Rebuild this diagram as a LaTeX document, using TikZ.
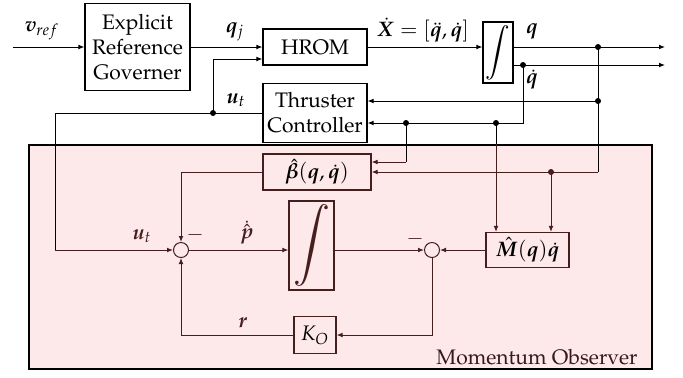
\documentclass[tikz,border=0pt]{standalone}
\usepackage{amsmath}
\usepackage[T1]{fontenc}
\usepackage{mathpazo}
\usepackage{bm}
\usetikzlibrary{arrows.meta}
\definecolor{obsfill}{RGB}{253,233,234}
\definecolor{obsline}{RGB}{70,30,30}
\begin{document}
\begin{tikzpicture}[x=0.5pt,y=-0.5pt,
  every node/.style={font=\fontsize{10.5}{12.5}\selectfont},
  blk/.style={draw,line width=0.6pt,align=center,inner sep=0pt},
  oblk/.style={blk,draw=obsline},
  sumc/.style={draw=obsline,line width=0.5pt,circle,minimum size=7.5pt,inner sep=0pt},
  conn/.style={line width=0.5pt,-{Latex[length=3pt,width=2.4pt]}},
  oconn/.style={conn,draw=obsline},
  seg/.style={line width=0.5pt},
  jdot/.style={circle,fill,inner sep=0pt,minimum size=3pt},
  lbl/.style={inner sep=0pt}]
\useasboundingbox (0,0) rectangle (683,377);
% observer background
\node[draw,line width=0.6pt,fill=obsfill,minimum width=311.5pt,minimum height=112pt,inner sep=0pt] (obs) at (340.5,257) {};
\node[lbl,text=obsline!80!black] (obslbl) at (537,357) {Momentum Observer};
% blocks
\node[blk,minimum width=52.5pt,minimum height=43.5pt] (erg) at (137.5,47) {Explicit\\Reference\\Governer};
\node[blk,minimum width=52pt,minimum height=18pt] (hrom) at (315,47) {HROM};
\node[blk,minimum width=52pt,minimum height=29.5pt] (tc) at (315,113) {Thruster\\Controller};
\node[blk,minimum width=15pt,minimum height=30.5pt] (int1) at (498,52.5) {};
\node[lbl] (int1s) at (int1) {\scalebox{1.3}{$\displaystyle\int$}};
\node[oblk,fill=obsfill,minimum width=54pt,minimum height=18pt] (beta) at (317,172) {$\hat{\bm\beta}(\bm q,\dot{\bm q})$};
\node[sumc] (s1) at (181,250) {};
\node[oblk,minimum width=22.5pt,minimum height=44.5pt] (int2) at (311.5,245.5) {};
\node[lbl,text=obsline] (int2s) at (int2) {\scalebox{1.95}{$\displaystyle\int$}};
\node[sumc] (s2) at (432,250) {};
\node[oblk,minimum width=41.5pt,minimum height=17.5pt] (mm) at (527.5,250) {$\hat{\bm M}(\bm q)\dot{\bm q}$};
\node[oblk,minimum width=21pt,minimum height=18.5pt] (ko) at (315,335) {$K_O$};
% coordinates
\coordinate (vin) at (13,47);
\coordinate (qout) at (665,47);
\coordinate (qdout) at (665,65);
\coordinate (j1) at (598,47);
\coordinate (j2) at (598,101);
\coordinate (c1) at (598,172);
\coordinate (j4) at (551,172);
\coordinate (j5) at (523,65);
\coordinate (c2) at (523,123);
\coordinate (j6) at (406,123);
\coordinate (j7) at (496,123);
\coordinate (c3) at (406,162);
\coordinate (c4) at (55,113);
\coordinate (c5) at (55,250);
\coordinate (j8) at (213,113);
\coordinate (c6) at (213,59);
\coordinate (c7) at (181,172);
\coordinate (c8) at (432,335);
\coordinate (c9) at (181,335);
% top connectors
\draw[conn] (vin) -- (erg);
\draw[conn] (erg) -- (hrom);
\draw[conn] (hrom.east) -- (hrom.east -| int1.west);
\draw[conn] (int1.east |- qout) -- (qout);
\draw[conn] (int1.east |- qdout) -- (qdout);
\draw[conn] (j2) -- (j2 -| tc.east);
\draw[conn] (j5) -- (c2) -- (c2 -| tc.east);
\draw[seg] (tc.west) -- (c4) -- (c5);
\draw[conn] (j8) -- (c6) -- (c6 -| hrom.west);
\draw[seg] (j1) -- (c1);
\draw[seg] (j6) -- (c3);
\draw[seg] (j7) -- (obs.north -| j7);
% observer connectors
\draw[oconn] (c1) -- (c1 -| beta.east);
\draw[oconn] (c3) -- (c3 -| beta.east);
\draw[oconn] (j4) -- (j4 |- mm.north);
\draw[oconn] (obs.north -| j7) -- (j7 |- mm.north);
\draw[oconn] (c5) -- (s1.west);
\draw[oconn] (beta.west |- c7) -- (c7) -- (s1.north);
\draw[oconn] (s1.east) -- (s1.east -| int2.west);
\draw[oconn] (int2.east |- s2) -- (s2.west);
\draw[oconn] (mm.west) -- (s2.east);
\draw[oconn] (s2.south) -- (c8) -- (ko.east);
\draw[oconn] (ko.west) -- (c9) -- (s1.south);
% dots
\node[jdot] (d1) at (j1) {};
\node[jdot] (d2) at (j2) {};
\node[jdot,obsline] (d4) at (j4) {};
\node[jdot] (d5) at (j5) {};
\node[jdot] (d6) at (j6) {};
\node[jdot] (d7) at (j7) {};
\node[jdot] (d8) at (j8) {};
% labels
\node[lbl] (lvref) at (42,31) {$\bm v_{ref}$};
\node[lbl] (lqj) at (235,32) {$\bm q_j$};
\node[lbl] (lxd) at (423,30) {$\dot{\bm X}=[\ddot{\bm q},\dot{\bm q}]$};
\node[lbl] (lq) at (532,31) {$\bm q$};
\node[lbl] (lqd) at (532,80) {$\dot{\bm q}$};
\node[lbl] (lut1) at (236,100) {$\bm u_t$};
\node[lbl,text=obsline] (lut2) at (142,236) {$\bm u_t$};
\node[lbl,text=obsline] (lm1) at (195,235) {$-$};
\node[lbl,text=obsline] (lpd) at (247,233) {$\dot{\hat{\bm p}}$};
\node[lbl,text=obsline] (lm2) at (415,239) {$-$};
\node[lbl,text=obsline] (lr) at (243,323) {$\bm r$};
\end{tikzpicture}
\end{document}
